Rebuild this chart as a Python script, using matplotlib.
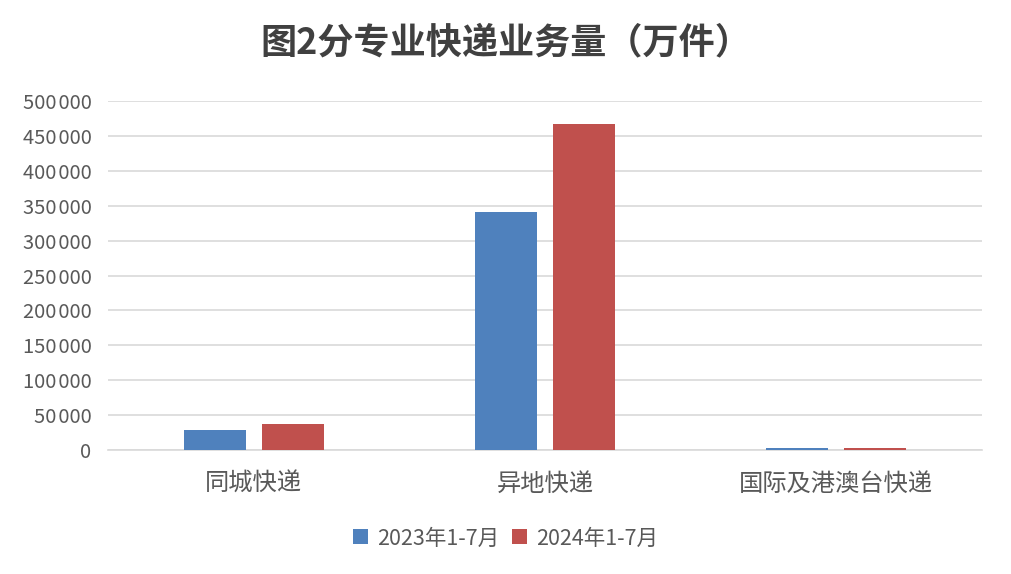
import matplotlib
matplotlib.use("Agg")
import matplotlib.pyplot as plt
import numpy as np
from matplotlib.ticker import FuncFormatter

plt.rcParams['font.family'] = ['Noto Sans CJK SC', 'DejaVu Sans']

categories = ["同城快递", "异地快递", "国际及港澳台快递"]
series_names = ["2023年1-7月", "2024年1-7月"]
values_2023 = [29000, 340500, 3000]
values_2024 = [37500, 467500, 3600]
yticks = [0, 50000, 100000, 150000, 200000, 250000, 300000, 350000, 400000, 450000, 500000]
colors = ["#4F81BD", "#C0504D"]

fig = plt.figure(figsize=(10.11, 5.74), dpi=100)
ax = fig.add_axes([0.107, 0.216, 0.864, 0.608])

x = np.arange(len(categories))
w = 0.213
off = 0.134
ax.bar(x - off, values_2023, w, color=colors[0], label=series_names[0], zorder=3)
ax.bar(x + off, values_2024, w, color=colors[1], label=series_names[1], zorder=3)

ax.set_xlim(-0.5, 2.5)
ax.set_ylim(0, 500000)
ax.set_yticks(yticks)
ax.yaxis.set_major_formatter(FuncFormatter(lambda v, p: f"{int(v):,}".replace(",", "\u200a")))
ax.grid(axis='y', color='#D9D9D9', linewidth=1.2, zorder=0)
for s in ['top', 'right', 'left']:
    ax.spines[s].set_visible(False)
ax.spines['bottom'].set_color('#D9D9D9')
ax.spines['bottom'].set_linewidth(1.2)
ax.tick_params(axis='both', length=0, colors='#595959')
ax.tick_params(axis='y', labelsize=14.5, pad=12)
ax.tick_params(axis='x', labelsize=17.5, pad=15)
ax.set_xticks(x)
ax.set_xticklabels(categories)

fig.text(0.5, 0.925, "图2分专业快递业务量（万件）", ha='center', va='center',
         fontsize=26, fontweight='bold', color='#404040')

leg = fig.legend(loc='center', bbox_to_anchor=(0.5, 0.062), ncol=2, frameon=False,
                 fontsize=15.5, handlelength=0.7, handleheight=0.7, handletextpad=0.4,
                 columnspacing=0.6, labelcolor='#595959')

fig.savefig("out.png", dpi=100)
